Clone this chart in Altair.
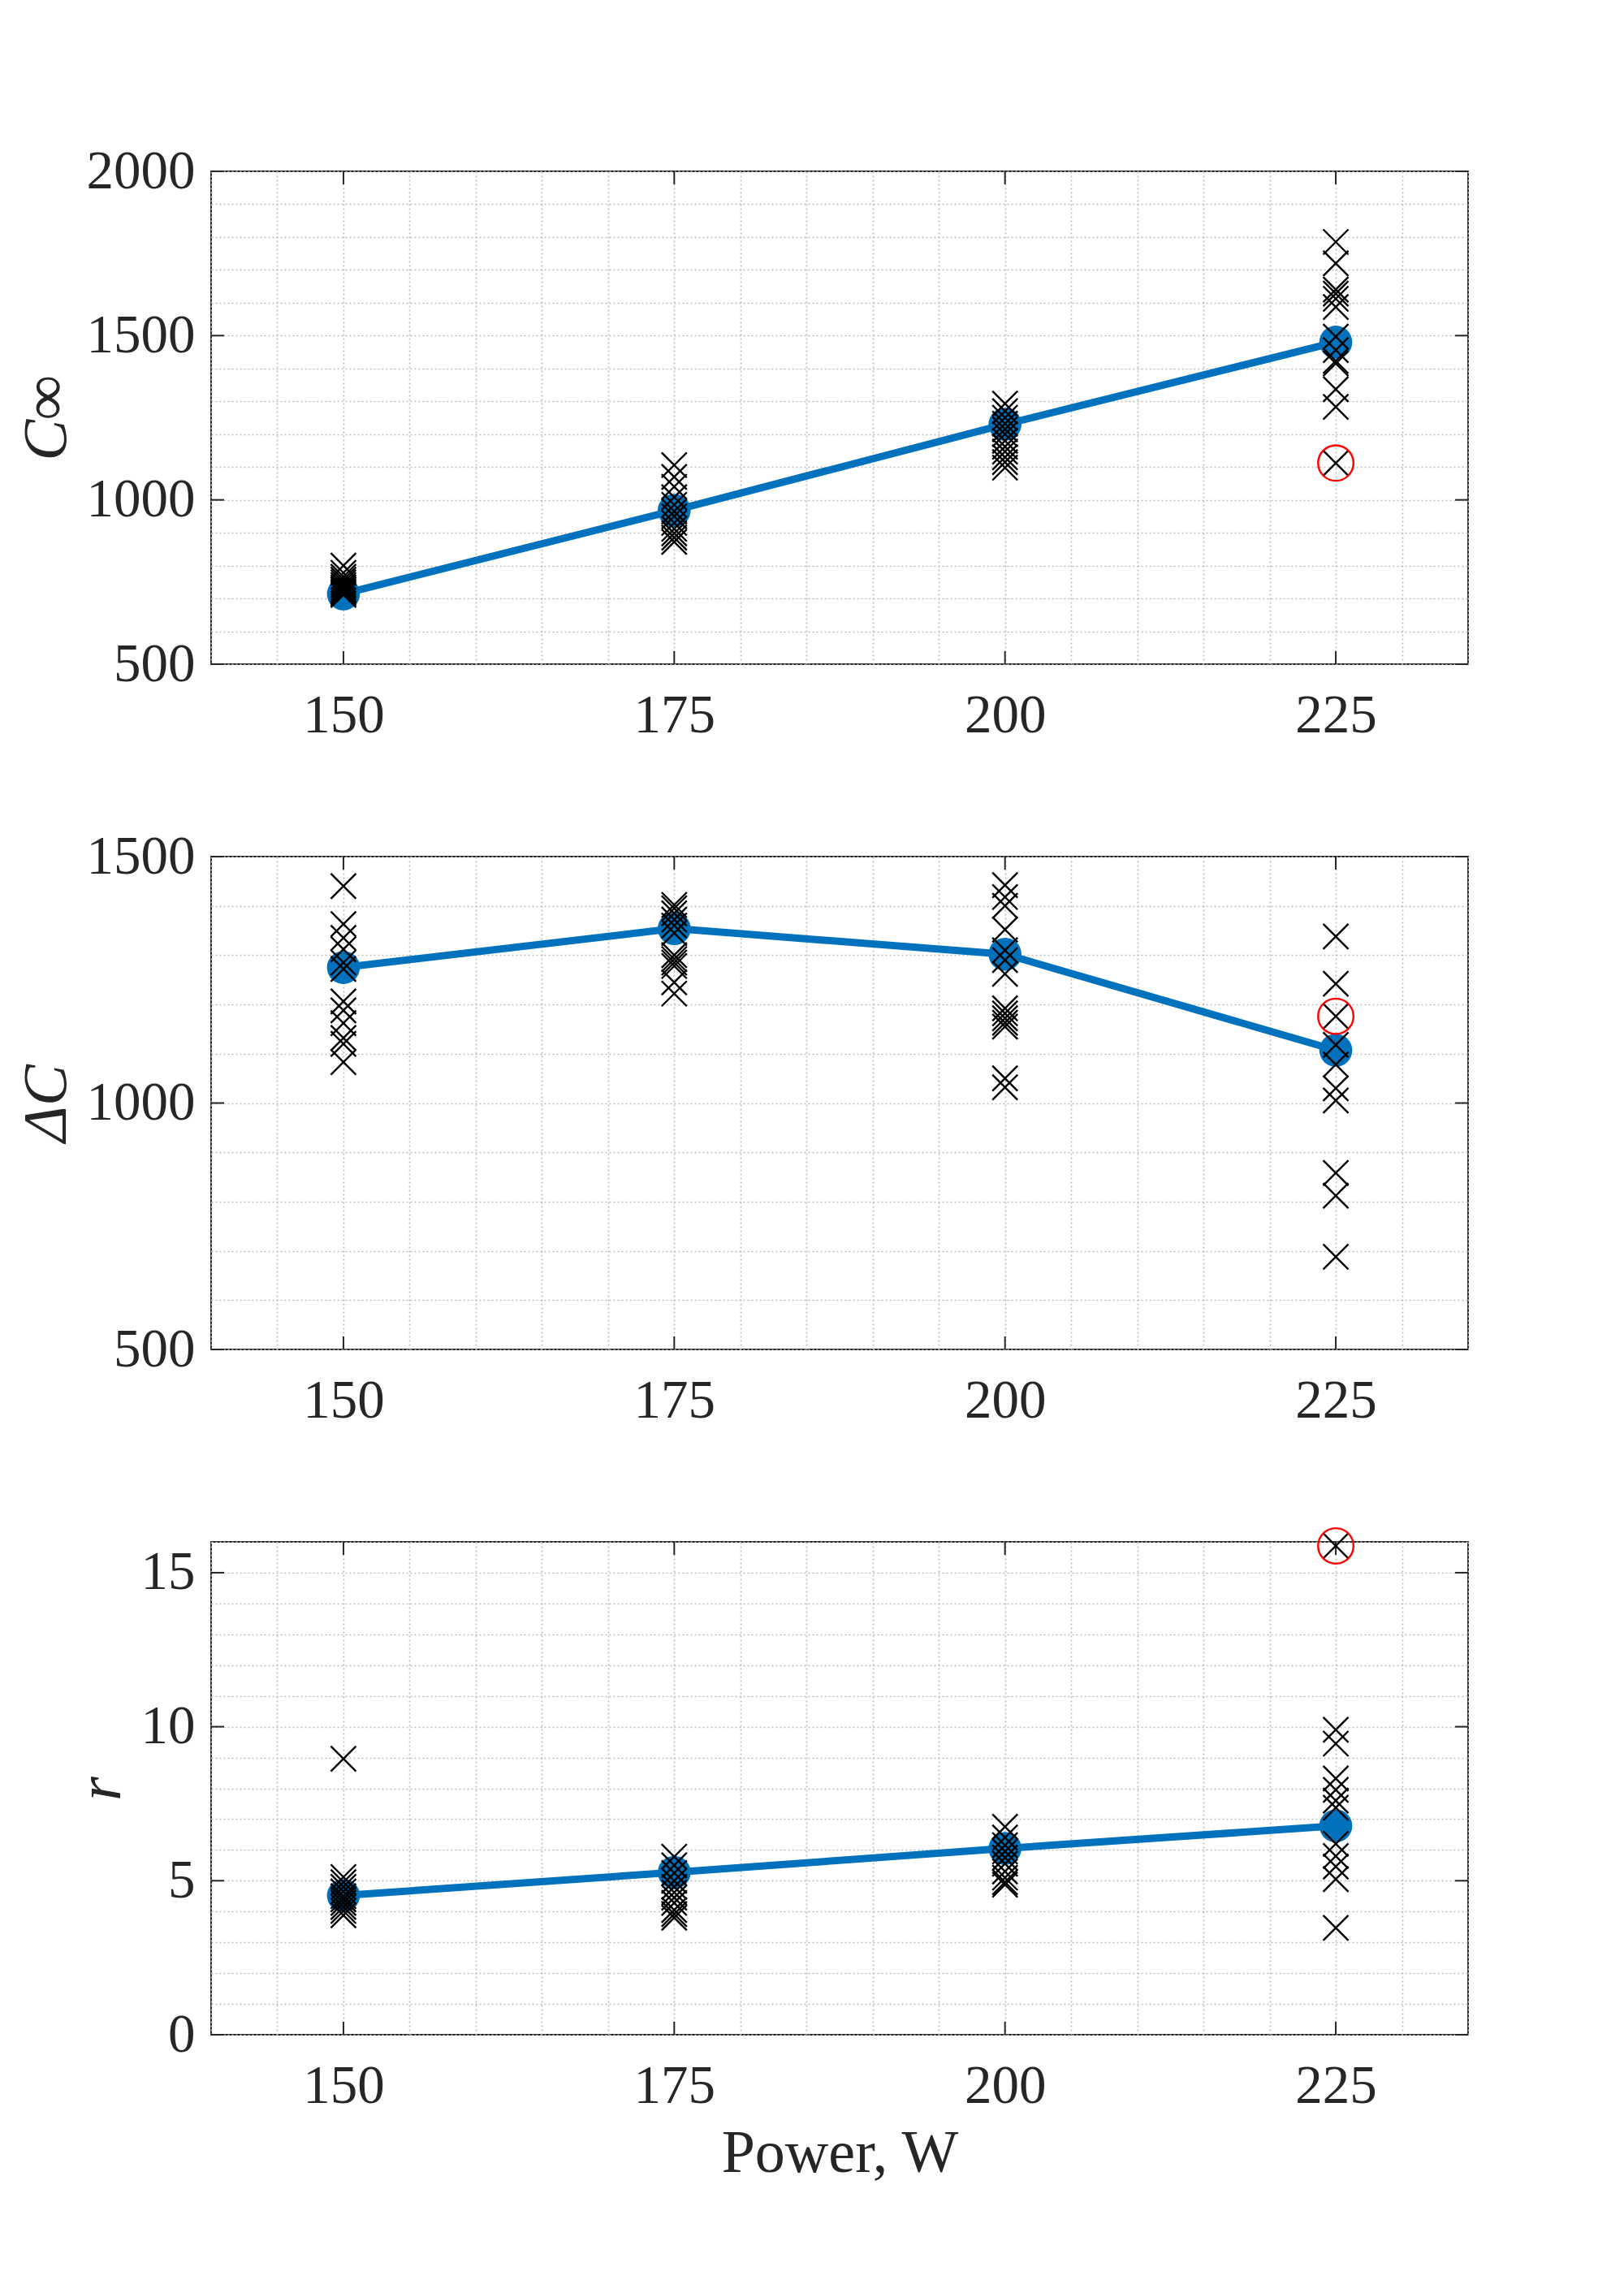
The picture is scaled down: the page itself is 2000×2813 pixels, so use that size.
import altair as alt
import pandas as pd

# ---------------- data ----------------
power = [150, 175, 200, 225]

# C_inf samples (black crosses)
cinf_150 = [800, 778, 766, 757, 749, 741, 734, 727, 721, 716, 711]
cinf_175 = [1106, 1070, 1040, 1008, 985, 965, 950, 930, 912, 898, 885, 872]
cinf_200 = [1293, 1270, 1250, 1232, 1215, 1200, 1180, 1162, 1147, 1130, 1115, 1098]
cinf_225 = [1785, 1720, 1640, 1628, 1612, 1587, 1497, 1456, 1423, 1415, 1337, 1283, 1112]
cinf_mean = [714, 968, 1230, 1480]
cinf_outlier = 1112

# Delta C samples
dc_150 = [1440, 1363, 1335, 1312, 1285, 1272, 1206, 1188, 1162, 1132, 1120, 1083]
dc_175 = [1402, 1395, 1385, 1372, 1360, 1345, 1300, 1292, 1285, 1278, 1245, 1222]
dc_200 = [1442, 1418, 1400, 1352, 1310, 1290, 1262, 1192, 1182, 1172, 1163, 1155, 1050, 1032]
dc_225 = [1338, 1242, 1176, 1118, 1078, 1030, 1005, 858, 812, 688]
dc_mean = [1275, 1354, 1302, 1107]
dc_outlier = 1176

# r samples
r_150 = [8.96, 5.12, 4.95, 4.8, 4.65, 4.5, 4.4, 4.28, 4.15, 4.02, 3.88]
r_175 = [5.78, 5.5, 5.25, 5.0, 4.8, 4.62, 4.45, 4.28, 4.05, 3.92, 3.8]
r_200 = [6.75, 6.4, 6.15, 5.95, 5.75, 5.55, 5.3, 5.1, 4.95, 4.87]
r_225 = [15.87, 9.9, 9.45, 8.32, 7.95, 7.6, 7.37, 6.2, 5.8, 5.46, 5.05, 3.47]
r_mean = [4.52, 5.27, 6.05, 6.78]
r_outlier = 15.87

outlier_power = 225

# axis / grid values
x_domain = [140, 235]
x_grid = list(range(140, 236, 5))
x_major = [150, 175, 200, 225]

cinf_domain = [500, 2000]
cinf_grid = list(range(500, 2001, 100))
cinf_major = [500, 1000, 1500, 2000]

dc_domain = [500, 1500]
dc_grid = list(range(500, 1501, 100))
dc_major = [500, 1000, 1500]

r_domain = [0, 16]
r_grid = list(range(0, 17, 1))
r_major = [0, 5, 10, 15]

# ---------------- styling ----------------
W, H = 1548, 607
FONT = "Liberation Serif"
BLUE = "#0072BD"
DARK = "#262626"
TICK_LEN = 16
XPATH = "M-1,-1L1,1M-1,1L1,-1"


def panel(samples, means, outlier, ydomain, ygrid, ymajor, ytitle, xtitle):
    xs = alt.Scale(domain=x_domain, nice=False, zero=False)
    ys = alt.Scale(domain=ydomain, nice=False, zero=False)

    samp_rows = []
    for p, vals in zip(power, samples):
        for v in vals:
            samp_rows.append({"power": p, "value": v})
    samp_df = pd.DataFrame(samp_rows)
    mean_df = pd.DataFrame({"power": power, "value": means})
    out_df = pd.DataFrame({"power": [outlier_power], "value": [outlier]})
    xt_df = pd.DataFrame({"power": x_major})
    yt_df = pd.DataFrame({"value": ymajor})

    major_y = " || ".join(f"datum.value == {m}" for m in ymajor)
    major_x = " || ".join(f"datum.value == {m}" for m in x_major)

    x_axis_kwargs = dict(
        values=x_grid,
        format="d",
        labelExpr=f"({major_x}) ? datum.label : ''",
        grid=True,
        ticks=False,
        tickSize=0,
        domain=False,
        labelOverlap=False,
        labelFlush=False,
        labelPadding=30,
        labelFont=FONT,
        labelFontSize=67,
        labelColor=DARK,
        gridColor="#bcbcbc",
        gridDash=[2, 3],
        gridWidth=1.6,
    )
    if xtitle:
        x_axis = alt.Axis(title=xtitle, titleFont=FONT, titleFontSize=74,
                          titleFontWeight="normal", titleColor=DARK,
                          titlePadding=14, **x_axis_kwargs)
    else:
        x_axis = alt.Axis(title=None, **x_axis_kwargs)

    y_axis = alt.Axis(
        title=ytitle,
        values=ygrid,
        format="d",
        labelExpr=f"({major_y}) ? datum.label : ''",
        grid=True,
        ticks=False,
        tickSize=0,
        domain=False,
        labelOverlap=False,
        labelFlush=False,
        labelPadding=20,
        labelFont=FONT,
        labelFontSize=67,
        labelColor=DARK,
        gridColor="#bcbcbc",
        gridDash=[2, 3],
        gridWidth=1.6,
        titleFont=FONT,
        titleFontSize=76,
        titleFontStyle="italic",
        titleFontWeight="normal",
        titleColor=DARK,
        titlePadding=10,
    )

    X = alt.X("power:Q", scale=xs, axis=x_axis)
    Y = alt.Y("value:Q", scale=ys, axis=y_axis)

    line = alt.Chart(mean_df).mark_line(color=BLUE, strokeWidth=9).encode(x=X, y=Y)
    dots = alt.Chart(mean_df).mark_point(
        shape="circle", filled=True, color=BLUE, size=1650, opacity=1
    ).encode(x=X, y=Y)
    crosses = alt.Chart(samp_df).mark_point(
        shape=XPATH, filled=False, color="black", size=960, strokeWidth=2.4, opacity=1
    ).encode(x=X, y=Y)
    ring = alt.Chart(out_df).mark_point(
        shape="circle", filled=False, color="#ff0000", size=1900, strokeWidth=2.4, opacity=1
    ).encode(x=X, y=Y)
    tick_style = dict(color=DARK, strokeWidth=2)
    xt_top = alt.Chart(xt_df).mark_rule(**tick_style).encode(
        x=X, y=alt.value(0), y2=alt.value(TICK_LEN),
    )
    xt_bot = alt.Chart(xt_df).mark_rule(**tick_style).encode(
        x=X, y=alt.value(H), y2=alt.value(H - TICK_LEN),
    )
    yt_left = alt.Chart(yt_df).mark_rule(**tick_style).encode(
        y=Y, x=alt.value(0), x2=alt.value(TICK_LEN),
    )
    yt_right = alt.Chart(yt_df).mark_rule(**tick_style).encode(
        y=Y, x=alt.value(W), x2=alt.value(W - TICK_LEN),
    )
    return alt.layer(line, xt_top, xt_bot, yt_left, yt_right, dots, crosses, ring).properties(
        width=W, height=H
    )


p1 = panel([cinf_150, cinf_175, cinf_200, cinf_225], cinf_mean, cinf_outlier,
           cinf_domain, cinf_grid, cinf_major, "C∞", None)
p2 = panel([dc_150, dc_175, dc_200, dc_225], dc_mean, dc_outlier,
           dc_domain, dc_grid, dc_major, "ΔC", None)
p3 = panel([r_150, r_175, r_200, r_225], r_mean, r_outlier,
           r_domain, r_grid, r_major, "r", "Power, W")

chart = alt.vconcat(p1, p2, p3, spacing=237, bounds="flush").properties(
    padding={"left": 10, "top": 168, "right": 10, "bottom": 10},
    background="white",
).configure_view(
    stroke=DARK, strokeWidth=2
)

chart.save("out.html", embed_options={"renderer": "svg", "actions": False})
